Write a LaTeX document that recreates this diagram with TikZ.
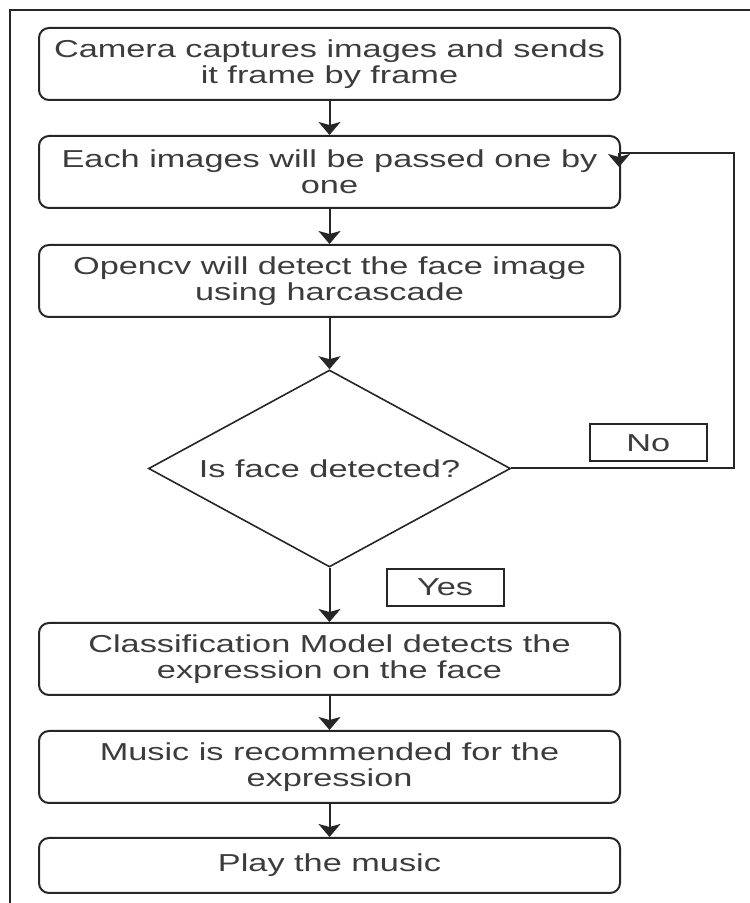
\documentclass[tikz,border=0pt]{standalone}
\usepackage{fontspec}
\setmainfont[FakeStretch=1.4]{Liberation Sans}
\usetikzlibrary{shapes.geometric,positioning,arrows.meta}
\definecolor{inkline}{HTML}{262626}
\definecolor{inktext}{HTML}{3C3C3C}

\begin{document}
\begin{tikzpicture}[x=1pt,y=1pt]
  \tikzstyle{proc}=[rectangle, rounded corners=10pt, draw=inkline, line width=2pt, minimum width=581pt, minimum height=72pt, align=center, inner sep=0pt]
  \tikzstyle{decide}=[diamond, draw=inkline, line width=1.6pt, minimum width=362pt, minimum height=197pt, aspect=1.84, inner sep=0pt]
  \tikzstyle{lbl}=[rectangle, draw=inkline, line width=2pt, minimum width=117pt, minimum height=37pt, inner sep=0pt]
  \tikzstyle{arr}=[-{Stealth[length=13pt,width=22pt,inset=3pt]}, draw=inkline, line width=2pt]
  \tikzstyle{every node}=[text=inktext, font=\fontsize{24.5pt}{26pt}\selectfont]
  \useasboundingbox (0,0) rectangle (750,903);
  \draw[draw=inkline, line width=2pt] (10,-10) |- (760,893);

  \node[proc] (cam) at (329.5,839) {Camera captures images and sends\\it frame by frame};
  \node[proc, below=34pt of cam] (pass) {Each images will be passed one by\\one};
  \node[proc, below=35pt of pass] (cv) {Opencv will detect the face image\\using harcascade};
  \node[decide, below=51.2pt of cv] (face) {Is face detected?};
  \node[proc, below=54.2pt of face] (cls) {Classification Model detects the\\expression on the face};
  \node[proc, below=34pt of cls] (music) {Music is recommended for the\\expression};
  \node[proc, minimum height=55pt, below=33pt of music] (play) {Play the music};

  \node[lbl] (no) at ([xshift=137pt,yshift=25.5pt]face.east) {No};
  \node[lbl] (yes) at ([xshift=115.5pt,yshift=-19.5pt]face.south) {Yes};

  \draw[arr] (cam) -- (pass);
  \draw[arr] (pass) -- (cv);
  \draw[arr] (cv) -- (face);
  \draw[arr] (face) -- (cls);
  \draw[arr] (cls) -- (music);
  \draw[arr] (music) -- (play);

  % the "No" branch goes back up to the second step
  \coordinate (back) at ([xshift=-2pt,yshift=-18pt]pass.north east);
  \draw[draw=inkline, line width=2pt] (face.east) -- ++(223pt,0) |- (back);
  \draw[arr] (back) -- ++(0,-14pt);
\end{tikzpicture}
\end{document}
